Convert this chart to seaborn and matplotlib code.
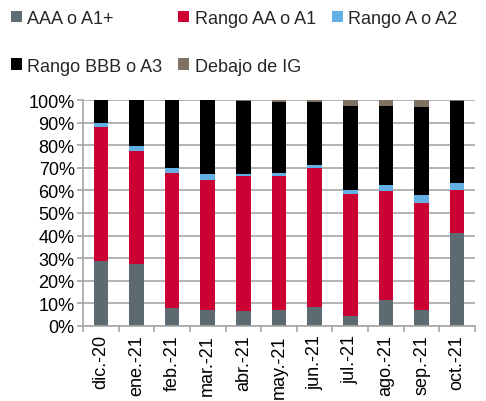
import numpy as np
import pandas as pd
import matplotlib
matplotlib.use("Agg")
import matplotlib.pyplot as plt
from matplotlib.patches import Patch
from matplotlib.ticker import FixedLocator, PercentFormatter
import seaborn as sns

categories = ["dic.-20", "ene.-21", "feb.-21", "mar.-21", "abr.-21", "may.-21",
              "jun.-21", "jul.-21", "ago.-21", "sep.-21", "oct.-21"]
aaa = [28.8, 27.6, 8.1, 7.2, 6.5, 7.1, 8.6, 4.6, 11.7, 7.2, 41.1]
aa = [59.4, 49.8, 59.7, 57.6, 59.8, 59.4, 61.4, 53.9, 48.1, 47.3, 19.0]
a = [1.6, 2.1, 2.2, 2.3, 0.9, 1.0, 1.2, 1.5, 2.7, 3.3, 3.0]
bbb = [10.2, 20.5, 30.0, 32.9, 32.3, 31.8, 28.1, 37.5, 35.0, 39.2, 36.6]
ig = [0.0, 0.0, 0.0, 0.0, 0.5, 0.7, 0.7, 2.5, 2.5, 3.0, 0.3]
series_names = ["AAA o A1+", "Rango AA o A1", "Rango A o A2", "Rango BBB o A3", "Debajo de IG"]
colors = ["#5E6A72", "#CC0033", "#63B0E4", "#000000", "#7F7262"]

sns.set_theme(style="white")
plt.rcParams["font.family"] = ["Liberation Sans", "DejaVu Sans"]

fig = plt.figure(figsize=(4.86, 4.02), dpi=100)
ax = fig.add_axes([83/486, 75/402, 392/486, 226/402])

series = [aaa, aa, a, bbb, ig]
cum = np.cumsum(np.array(series, dtype=float), axis=0)
# draw from top of stack down so lower segments overlay upper ones
for i in range(len(series) - 1, -1, -1):
    df = pd.DataFrame({"cat": categories, "val": cum[i]})
    sns.barplot(data=df, x="cat", y="val", color=colors[i], saturation=1,
                width=0.41, ax=ax, zorder=2, linewidth=0)

ax.set_xlim(-0.5, len(categories) - 0.5)
ax.set_ylim(0, 100)
ax.yaxis.set_major_locator(FixedLocator(np.arange(0, 101, 10)))
ax.yaxis.set_major_formatter(PercentFormatter(decimals=0))
ax.grid(axis="y", color="#A6A6A6", linewidth=1.2, zorder=0)
ax.set_axisbelow(True)
ax.set_xlabel("")
ax.set_ylabel("")

for s in ["top", "right"]:
    ax.spines[s].set_visible(False)
for s in ["left", "bottom"]:
    ax.spines[s].set_color("#A6A6A6")
    ax.spines[s].set_linewidth(1.2)

ax.tick_params(axis="y", which="major", length=4, width=1.2, color="#A6A6A6",
               labelsize=13, pad=2, left=True, labelcolor="black")
ax.set_xticks(range(len(categories)))
ax.set_xticklabels(categories, rotation=90, fontsize=13)
ax.tick_params(axis="x", which="major", length=0, pad=6, labelcolor="black")
ax.set_xticks(np.arange(-0.5, len(categories), 1.0), minor=True)
ax.tick_params(axis="x", which="minor", length=4, width=1.2, color="#A6A6A6", bottom=True)

handles = [Patch(facecolor=c, edgecolor="none") for c in colors]
order = [0, 3, 1, 4, 2]
fig.legend([handles[i] for i in order], [series_names[i] for i in order],
           loc="upper left", bbox_to_anchor=(0.0, 1.0), ncol=3, frameon=False,
           fontsize=13, handlelength=0.6, handleheight=0.6, handletextpad=0.3,
           columnspacing=0.9, labelspacing=1.7, borderaxespad=0.2)

fig.savefig("out.png", dpi=100)
